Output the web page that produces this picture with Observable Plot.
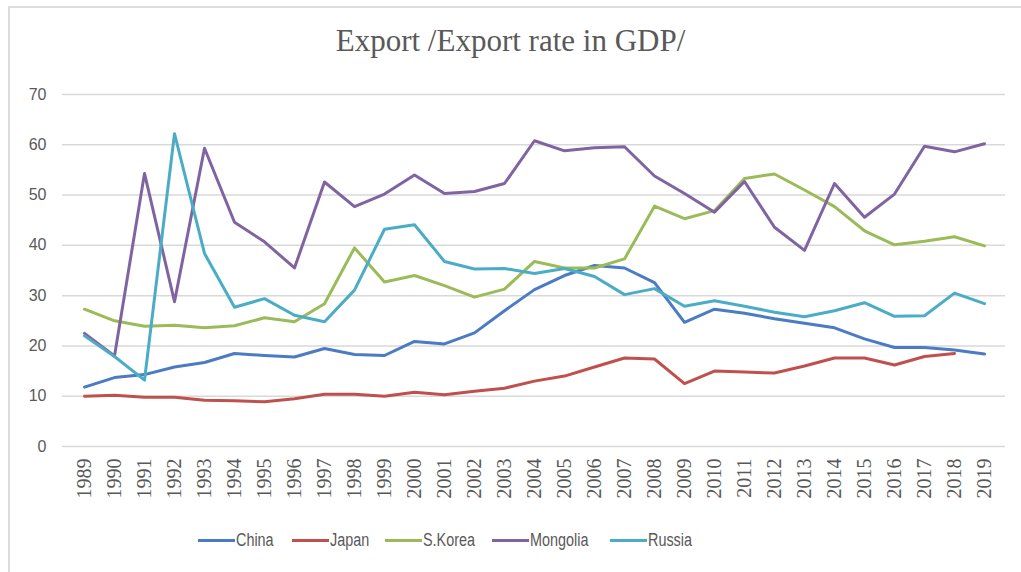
<!DOCTYPE html>
<html>
<head>
<meta charset="utf-8">
<script src="https://cdn.jsdelivr.net/npm/d3@7"></script>
<script src="https://cdn.jsdelivr.net/npm/@observablehq/plot@0.6"></script>
<style>
  html, body { margin: 0; padding: 0; background: #fff; }
  #wrap { position: relative; width: 1021px; height: 572px; overflow: hidden; background: #fff; }
  #frame { position: absolute; left: 8px; top: 6px; width: 1100px; height: 700px; border-top: 2px solid #dcdcdc; border-left: 2px solid #dcdcdc; }
  #title { position: absolute; left: 0; width: 1021px; top: 23px; text-align: center; font-family: "Liberation Serif", "DejaVu Serif", serif; font-size: 31px; color: #595959; }
  #chart { position: absolute; left: 0; top: 75px; }
  #legend { position: absolute; left: 0; top: 528px; width: 1021px; height: 24px; font-family: "Liberation Sans", sans-serif; font-size: 18px; color: #595959; }
  .item { position: absolute; top: 0; display: flex; align-items: center; height: 24px; }
  .swatch { width: 37px; height: 3px; margin-right: 1px; }
  .label { display: inline-block; transform: scaleX(0.8); transform-origin: left center; white-space: nowrap; }
</style>
</head>
<body>
<div id="wrap">
  <div id="frame"></div>
  <div id="title">Export /Export rate in GDP/</div>
  <div id="chart"></div>
  <div id="legend"></div>
</div>
<script>
const years = [1989,1990,1991,1992,1993,1994,1995,1996,1997,1998,1999,2000,2001,2002,2003,2004,2005,2006,2007,2008,2009,2010,2011,2012,2013,2014,2015,2016,2017,2018,2019];
const seriesNames = ["China", "Japan", "S.Korea", "Mongolia", "Russia"];
const seriesColors = ["#4a7bc4", "#c0504d", "#9bbb59", "#8064a2", "#4bacc6"];
const china = [11.8,13.7,14.3,15.8,16.7,18.5,18.1,17.8,19.5,18.3,18.1,20.9,20.4,22.6,27.0,31.2,34.0,36.0,35.5,32.6,24.7,27.3,26.5,25.4,24.5,23.6,21.4,19.7,19.7,19.2,18.4];
const japan = [10.0,10.2,9.8,9.8,9.2,9.1,8.9,9.5,10.4,10.4,10.0,10.8,10.3,11.0,11.6,13.0,14.0,15.8,17.6,17.4,12.5,15.0,14.8,14.6,16.0,17.6,17.6,16.2,17.9,18.5,null];
const skorea = [27.3,25.0,23.9,24.1,23.6,24.0,25.6,24.8,28.4,39.5,32.7,34.0,32.0,29.7,31.3,36.8,35.5,35.5,37.3,47.8,45.3,46.9,53.3,54.2,51.0,47.7,42.9,40.1,40.8,41.7,39.9];
const mongolia = [22.5,18.0,54.3,28.8,59.3,44.6,40.7,35.5,52.6,47.7,50.2,54.0,50.3,50.7,52.3,60.8,58.8,59.4,59.6,53.8,50.3,46.6,52.7,43.6,39.0,52.3,45.6,50.2,59.7,58.6,60.2];
const russia = [22.0,17.9,13.2,62.2,38.4,27.7,29.4,26.1,24.8,31.1,43.2,44.1,36.8,35.3,35.4,34.4,35.4,33.8,30.2,31.4,27.9,29.0,27.9,26.7,25.8,27.0,28.6,25.9,26.0,30.5,28.4];
const yTicks = [0,10,20,30,40,50,60,70];

const allValues = [china, japan, skorea, mongolia, russia];
const data = [];
seriesNames.forEach((name, si) => {
  allValues[si].forEach((v, i) => {
    if (v != null) data.push({series: name, year: String(years[i]), value: v});
  });
});

const chart = Plot.plot({
  width: 1021,
  height: 440,
  marginLeft: 62,
  marginRight: 16,
  marginTop: 19,
  marginBottom: 69,
  style: {background: "transparent", overflow: "visible"},
  x: {type: "point", domain: years.map(String), padding: 0.5, label: null},
  y: {domain: [0, 70], ticks: yTicks, label: null},
  color: {domain: seriesNames, range: seriesColors},
  marks: [
    Plot.ruleY(yTicks, {stroke: "#d9d9d9", strokeWidth: 1.5}),
    Plot.axisY({ticks: yTicks, tickSize: 0, tickPadding: 16, fontSize: 16, fill: "#595959", fontFamily: "Liberation Sans, sans-serif", label: null}),
    Plot.axisX({tickSize: 0, tickRotate: -90, tickPadding: 12, fontSize: 20, fill: "#595959", fontFamily: "Liberation Serif, serif", label: null}),
    Plot.line(data, {x: "year", y: "value", z: "series", stroke: "series", strokeWidth: 3, strokeLinejoin: "round", strokeLinecap: "round"})
  ]
});
document.getElementById("chart").appendChild(chart);

const legendPos = [198, 292, 385, 492, 610];
const legend = document.getElementById("legend");
seriesNames.forEach((name, i) => {
  const item = document.createElement("div");
  item.className = "item";
  item.style.left = legendPos[i] + "px";
  const sw = document.createElement("div");
  sw.className = "swatch";
  sw.style.background = seriesColors[i];
  const tx = document.createElement("span");
  tx.className = "label";
  tx.textContent = name;
  item.appendChild(sw);
  item.appendChild(tx);
  legend.appendChild(item);
});
</script>
</body>
</html>
